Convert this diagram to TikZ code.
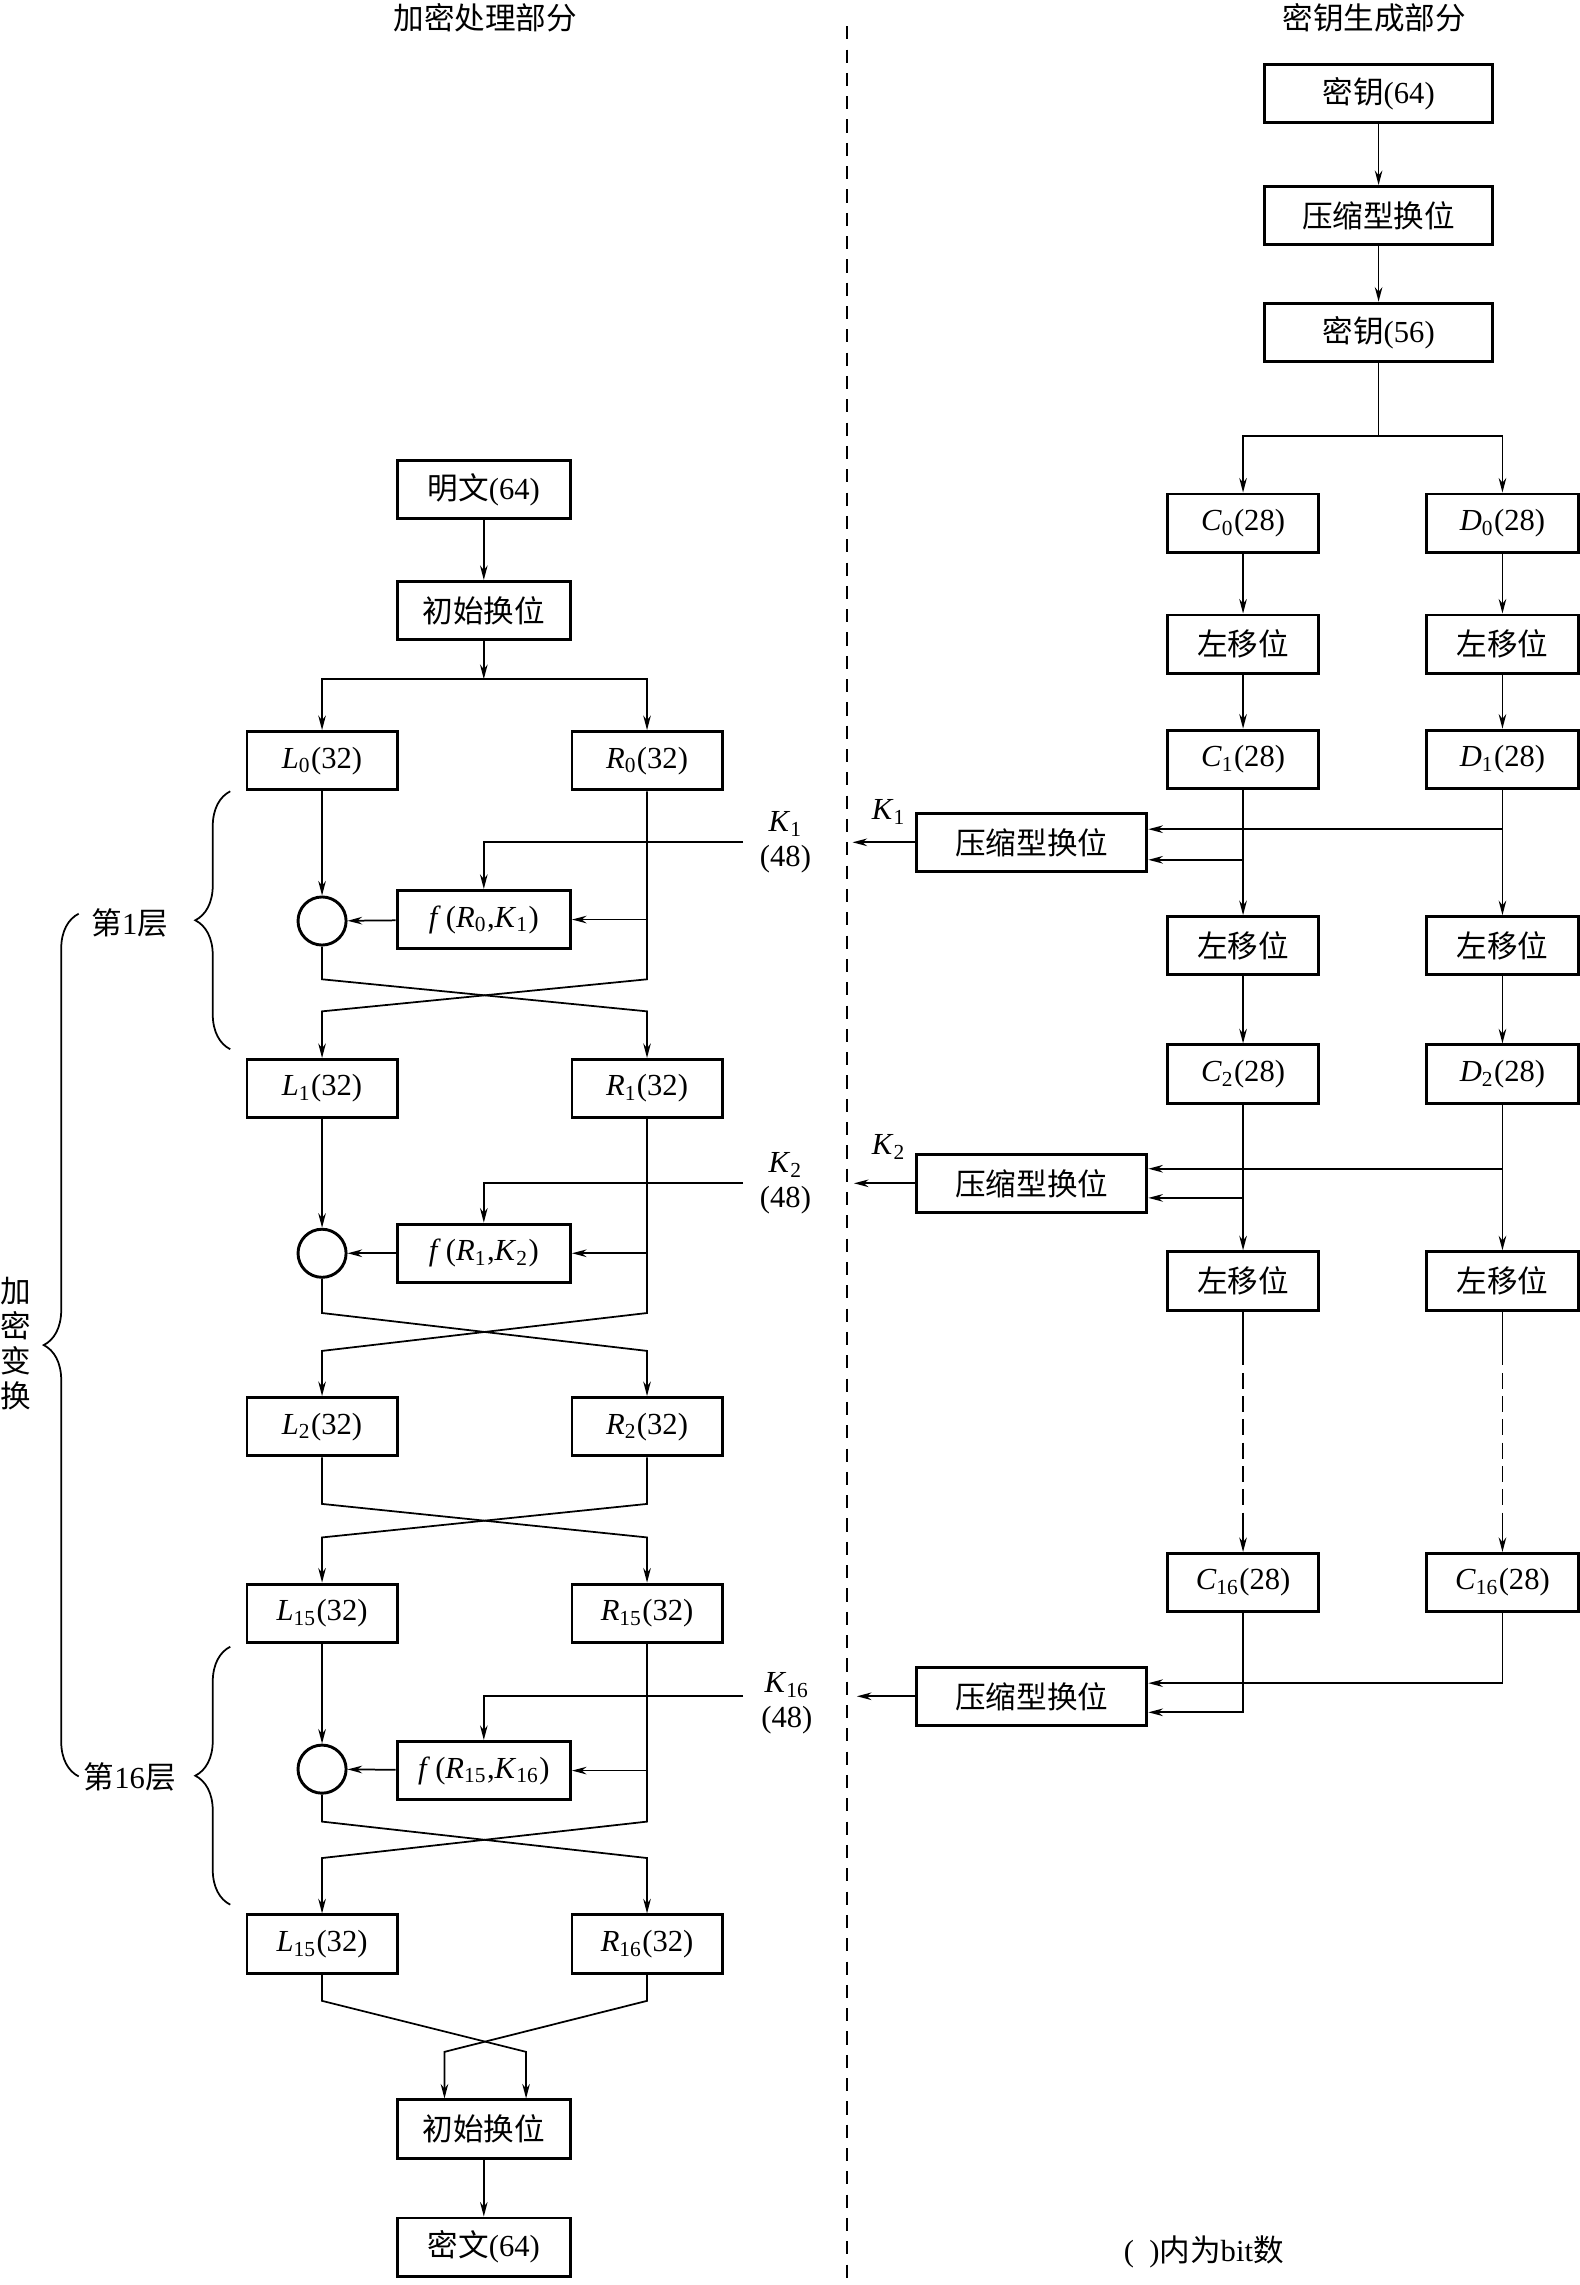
\documentclass[tikz,border=0pt]{standalone}
\usepackage{fontspec}
\setmainfont{Liberation Serif}
\newfontfamily\cjk{Noto Sans CJK SC}
\usetikzlibrary{arrows.meta,decorations.pathreplacing}
\newcommand{\zh}[1]{{\cjk #1}}
\newcommand{\fsz}{\fontsize{10.5}{12}\selectfont}
\newcommand{\sbv}[2]{\textit{#1}\textsubscript{#2}}
\newcommand{\fRK}[2]{\textit{f}\,(\sbv{R}{#1},\sbv{K}{#2})}
\tikzset{
  bx/.style={draw, line width=1pt, minimum height=20pt, inner sep=0pt, font=\fsz},
  bxw/.style={bx, minimum width=59.5pt},
  bxlr/.style={bx, minimum width=51.5pt},
  bxcd/.style={bx, minimum width=52pt},
  bxkey/.style={bx, minimum width=78pt},
  bxkp/.style={bx, minimum width=79pt},
  xorc/.style={draw, circle, line width=1pt, minimum size=16.5pt, inner sep=0pt},
  ar/.style={-{Stealth[length=5pt,width=2.6pt]}, line width=0.6pt},
  ln/.style={line width=0.6pt},
  lbl/.style={font=\fsz, inner sep=0pt},
  brc/.style={decorate, decoration={brace, amplitude=12pt}, line width=0.6pt}
}
\begin{document}
\begin{tikzpicture}[x=0.5pt,y=-0.5pt]
\useasboundingbox (0,0) rectangle (1084,1568);
% titles
\node[lbl] (t1) at (333,12) {\zh{加密处理部分}};
\node[lbl] (t2) at (943,12) {\zh{密钥生成部分}};
% divider
\coordinate (dvt) at (581,18);
\coordinate (dvb) at (581,1568);
\draw[ln, dash pattern=on 4.5pt off 3.5pt] (dvt) -- (dvb);

% ===== left: encryption =====
\node[bxw] (pt) at (332,336) {\zh{明文}(64)};
\node[bxw] (ip1) at (332,419) {\zh{初始换位}};
\coordinate (sp) at (332,466);
\node[bxlr] (L0) at (221,522) {\sbv{L}{0}(32)};
\node[bxlr] (R0) at (444,522) {\sbv{R}{0}(32)};
\draw[ar] (pt) -- (ip1);
\draw[ar] (ip1) -- (sp);
\draw[ar] (sp) -| (L0);
\draw[ar] (sp) -| (R0);

% round 1
\node[xorc] (x1) at (221,632) {};
\node[bxw] (f1) at (332,631) {\fRK{0}{1}};
\node[bxlr] (L1) at (221,747) {\sbv{L}{1}(32)};
\node[bxlr] (R1) at (444,747) {\sbv{R}{1}(32)};
\coordinate (k1s) at (510,578);
\coordinate (k1c) at (332,578);
\coordinate (r1b) at (444,631);
\coordinate (c1a) at (221,672);
\coordinate (c1b) at (444,672);
\coordinate (c1c) at (221,694);
\coordinate (c1d) at (444,694);
\draw[ar] (k1s) -- (k1c) -- (f1);
\draw[ar] (L0) -- (x1);
\draw[ar] (f1) -- (x1);
\draw[ar] (r1b) -- (f1);
\draw[ar] (x1) -- (c1a) -- (c1d) -- (R1);
\draw[ar] (R0) -- (c1b) -- (c1c) -- (L1);
\node[lbl, align=center] (k1l) at (539,578) {\sbv{K}{1}\\(48)};

% round 2
\node[xorc] (x2) at (221,860) {};
\node[bxw] (f2) at (332,860) {\fRK{1}{2}};
\node[bxlr] (L2) at (221,979) {\sbv{L}{2}(32)};
\node[bxlr] (R2) at (444,979) {\sbv{R}{2}(32)};
\coordinate (k2s) at (510,812);
\coordinate (k2c) at (332,812);
\coordinate (r2b) at (444,860);
\coordinate (c2a) at (221,901);
\coordinate (c2b) at (444,901);
\coordinate (c2c) at (221,927);
\coordinate (c2d) at (444,927);
\draw[ar] (k2s) -- (k2c) -- (f2);
\draw[ar] (L1) -- (x2);
\draw[ar] (f2) -- (x2);
\draw[ar] (r2b) -- (f2);
\draw[ar] (x2) -- (c2a) -- (c2d) -- (R2);
\draw[ar] (R1) -- (c2b) -- (c2c) -- (L2);
\node[lbl, align=center] (k2l) at (539,812) {\sbv{K}{2}\\(48)};

% to round 15
\node[bxlr] (L15) at (221,1107) {\sbv{L}{15}(32)};
\node[bxlr] (R15) at (444,1107) {\sbv{R}{15}(32)};
\coordinate (c3a) at (221,1032);
\coordinate (c3b) at (444,1032);
\coordinate (c3c) at (221,1055);
\coordinate (c3d) at (444,1055);
\draw[ar] (L2) -- (c3a) -- (c3d) -- (R15);
\draw[ar] (R2) -- (c3b) -- (c3c) -- (L15);

% round 16
\node[xorc] (x16) at (221,1214) {};
\node[bxw] (f16) at (332,1215) {\fRK{15}{16}};
\node[bxlr] (L16) at (221,1334) {\sbv{L}{15}(32)};
\node[bxlr] (R16) at (444,1334) {\sbv{R}{16}(32)};
\coordinate (k16s) at (510,1164);
\coordinate (k16c) at (332,1164);
\coordinate (r16b) at (444,1215);
\coordinate (c4a) at (221,1250);
\coordinate (c4b) at (444,1250);
\coordinate (c4c) at (221,1275);
\coordinate (c4d) at (444,1275);
\draw[ar] (k16s) -- (k16c) -- (f16);
\draw[ar] (L15) -- (x16);
\draw[ar] (f16) -- (x16);
\draw[ar] (r16b) -- (f16);
\draw[ar] (x16) -- (c4a) -- (c4d) -- (R16);
\draw[ar] (R15) -- (c4b) -- (c4c) -- (L16);
\node[lbl, align=center] (k16l) at (540,1169) {\sbv{K}{16}\\(48)};

% final
\node[bxw] (ip2) at (332,1461) {\zh{初始换位}};
\node[bxw] (ct) at (332,1542) {\zh{密文}(64)};
\coordinate (e1) at (221,1373);
\coordinate (e2) at (444,1373);
\coordinate (e3) at (361,1408);
\coordinate (e4) at (305,1408);
\draw[ar] (L16) -- (e1) -- (e3) -- (e3 |- ip2.north);
\draw[ar] (R16) -- (e2) -- (e4) -- (e4 |- ip2.north);
\draw[ar] (ip2) -- (ct);

% braces
\coordinate (b1a) at (158,720);
\coordinate (b1b) at (158,543);
\draw[brc] (b1a) -- (b1b);
\node[lbl] (r1t) at (89,633) {\zh{第}1\zh{层}};
\coordinate (b2a) at (158,1307);
\coordinate (b2b) at (158,1130);
\draw[brc] (b2a) -- (b2b);
\node[lbl] (r16t) at (89,1219) {\zh{第}16\zh{层}};
\coordinate (b3a) at (54,1219);
\coordinate (b3b) at (54,627);
\draw[brc] (b3a) -- (b3b);
\node[lbl, align=center] (enc) at (11,922) {\zh{加}\\\zh{密}\\\zh{变}\\\zh{换}};

% ===== right: key schedule =====
\node[bxkey] (k64) at (946,64) {\zh{密钥}(64)};
\node[bxkey] (cp0) at (946,148) {\zh{压缩型换位}};
\node[bxkey] (k56) at (946,228) {\zh{密钥}(56)};
\coordinate (ksp) at (946,299);
\draw[ar] (k64) -- (cp0);
\draw[ar] (cp0) -- (k56);
\draw[ln] (k56) -- (ksp);
\node[bxcd] (C0) at (853,359) {\sbv{C}{0}(28)};
\node[bxcd] (D0) at (1031,359) {\sbv{D}{0}(28)};
\draw[ar] (ksp) -| (C0);
\draw[ar] (ksp) -| (D0);
\node[bxcd] (S1c) at (853,442) {\zh{左移位}};
\node[bxcd] (S1d) at (1031,442) {\zh{左移位}};
\node[bxcd] (C1) at (853,521) {\sbv{C}{1}(28)};
\node[bxcd] (D1) at (1031,521) {\sbv{D}{1}(28)};
\draw[ar] (C0) -- (S1c);
\draw[ar] (D0) -- (S1d);
\draw[ar] (S1c) -- (C1);
\draw[ar] (S1d) -- (D1);

\node[bxkp] (KP1) at (708,578) {\zh{压缩型换位}};
\node[bxcd] (S2c) at (853,649) {\zh{左移位}};
\node[bxcd] (S2d) at (1031,649) {\zh{左移位}};
\coordinate (d1b) at (1031,569);
\coordinate (c1bb) at (853,590);
\coordinate (kp1o) at (585,578);
\draw[ar] (C1) -- (S2c);
\draw[ar] (D1) -- (S2d);
\draw[ar] (d1b) -- (d1b -| KP1.east);
\draw[ar] (c1bb) -- (c1bb -| KP1.east);
\draw[ar] (KP1) -- (kp1o);
\node[lbl] (kk1) at (610,557) {\sbv{K}{1}};

\node[bxcd] (C2) at (853,737) {\sbv{C}{2}(28)};
\node[bxcd] (D2) at (1031,737) {\sbv{D}{2}(28)};
\draw[ar] (S2c) -- (C2);
\draw[ar] (S2d) -- (D2);
\node[bxkp] (KP2) at (708,812) {\zh{压缩型换位}};
\node[bxcd] (S3c) at (853,879) {\zh{左移位}};
\node[bxcd] (S3d) at (1031,879) {\zh{左移位}};
\coordinate (d2b) at (1031,802);
\coordinate (c2bb) at (853,822);
\coordinate (kp2o) at (586,812);
\draw[ar] (C2) -- (S3c);
\draw[ar] (D2) -- (S3d);
\draw[ar] (d2b) -- (d2b -| KP2.east);
\draw[ar] (c2bb) -- (c2bb -| KP2.east);
\draw[ar] (KP2) -- (kp2o);
\node[lbl] (kk2) at (610,787) {\sbv{K}{2}};

\node[bxcd] (C16a) at (853,1086) {\sbv{C}{16}(28)};
\node[bxcd] (C16b) at (1031,1086) {\sbv{C}{16}(28)};
\coordinate (dc1) at (853,926);
\coordinate (dc2) at (853,1041);
\coordinate (dd1) at (1031,926);
\coordinate (dd2) at (1031,1041);
\draw[ln] (S3c) -- (dc1);
\draw[ln, dash pattern=on 5.5pt off 2.5pt] (dc1) -- (dc2);
\draw[ar] (dc2) -- (C16a);
\draw[ln] (S3d) -- (dd1);
\draw[ln, dash pattern=on 5.5pt off 2.5pt] (dd1) -- (dd2);
\draw[ar] (dd2) -- (C16b);

\node[bxkp] (KP16) at (708,1164) {\zh{压缩型换位}};
\coordinate (c16c) at (853,1175);
\coordinate (c16d) at (1031,1155);
\coordinate (kp16o) at (588,1164);
\draw[ar] (C16a) -- (c16c) -- (c16c -| KP16.east);
\draw[ar] (C16b) -- (c16d) -- (c16d -| KP16.east);
\draw[ar] (KP16) -- (kp16o);

\node[lbl] (note) at (826,1545) {(\ \ )\zh{内为}bit\zh{数}};
\end{tikzpicture}
\end{document}
